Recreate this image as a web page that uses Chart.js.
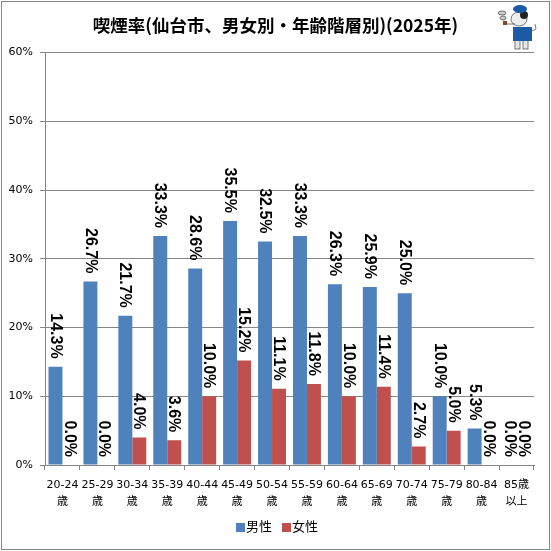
<!DOCTYPE html>
<html>
<head>
<meta charset="utf-8">
<script src="https://cdn.jsdelivr.net/npm/chart.js@4"></script>
<style>
  html, body { margin: 0; padding: 0; background: #fff; }
  canvas { display: block; }
</style>
</head>
<body>
<canvas id="myChart" width="551" height="551"></canvas>
<script>
const categories = [
  ["20-24", "歳"], ["25-29", "歳"], ["30-34", "歳"], ["35-39", "歳"], ["40-44", "歳"],
  ["45-49", "歳"], ["50-54", "歳"], ["55-59", "歳"], ["60-64", "歳"], ["65-69", "歳"],
  ["70-74", "歳"], ["75-79", "歳"], ["80-84", "歳"], ["85歳", "以上"],
];
const male = [14.3, 26.7, 21.7, 33.3, 28.6, 35.5, 32.5, 33.3, 26.3, 25.9, 25.0, 10.0, 5.3, 0.0];
const female = [0.0, 0.0, 4.0, 3.6, 10.0, 15.2, 11.1, 11.8, 10.0, 11.4, 2.7, 5.0, 0.0, 0.0];
const titleText = "喫煙率(仙台市、男女別・年齢階層別)(2025年)";

const tickFont = '"DejaVu Sans", "Noto Sans CJK JP", sans-serif';
const cjkFont = '"Noto Sans CJK JP", sans-serif';
const gray = "#868686";

// rotated value labels above each bar
const barLabels = {
  id: "barLabels",
  afterDatasetsDraw(chart) {
    const ctx = chart.ctx;
    chart.data.datasets.forEach((ds, i) => {
      chart.getDatasetMeta(i).data.forEach((bar, j) => {
        ctx.save();
        ctx.translate(bar.x - 0.5, bar.y - 8);
        ctx.rotate(Math.PI / 2);
        ctx.font = 'bold 16px "Liberation Sans", sans-serif';
        ctx.fillStyle = "#000";
        ctx.textAlign = "right";
        ctx.textBaseline = "middle";
        ctx.fillText(ds.data[j].toFixed(1) + "%", 0, 0);
        ctx.restore();
      });
    });
  },
};

// legend with the swatch tight against the text, as in the picture
const tightLegend = {
  id: "tightLegend",
  afterDraw(chart) {
    const ctx = chart.ctx;
    const startX = [236, 282];
    ctx.save();
    ctx.font = "13px " + cjkFont;
    ctx.textBaseline = "middle";
    chart.data.datasets.forEach((ds, i) => {
      ctx.fillStyle = ds.backgroundColor;
      ctx.fillRect(startX[i], 523, 9, 9);
      ctx.fillStyle = "#000";
      ctx.fillText(ds.label, startX[i] + 10, 526);
    });
    ctx.restore();
  },
};

// outer frame + the little mascot in the corner
const frame = {
  id: "frame",
  afterDraw(chart) {
    const ctx = chart.ctx;
    ctx.save();
    ctx.strokeStyle = gray;
    ctx.lineWidth = 1;
    ctx.strokeRect(1.5, 1.5, 548, 548);

    ctx.strokeStyle = "#444";
    ctx.lineWidth = 0.7;
    // smoke
    ctx.fillStyle = "#ccc";
    ctx.beginPath(); ctx.ellipse(502, 13, 4, 2, 0, 0, 7); ctx.fill(); ctx.stroke();
    ctx.beginPath(); ctx.ellipse(503, 18, 3, 2, 0, 0, 7); ctx.fill(); ctx.stroke();
    // tail and legs
    ctx.fillStyle = "#e6e6e6";
    ctx.beginPath(); ctx.moveTo(530, 32); ctx.lineTo(536, 29); ctx.lineTo(535, 24); ctx.stroke();
    ctx.fillRect(515, 40, 5, 9); ctx.strokeRect(515, 40, 5, 9);
    ctx.fillRect(523, 40, 5, 9); ctx.strokeRect(523, 40, 5, 9);
    // vest
    ctx.fillStyle = "#1c5aa6";
    ctx.fillRect(513, 27, 19, 14);
    // head
    ctx.fillStyle = "#eee";
    ctx.beginPath(); ctx.ellipse(519, 19, 8, 7, 0, 0, 7); ctx.fill(); ctx.stroke();
    ctx.fillStyle = "#222";
    ctx.beginPath(); ctx.ellipse(524, 15, 4, 4, 0, 0, 7); ctx.fill();
    // hat
    ctx.fillStyle = "#1c5aa6";
    ctx.beginPath(); ctx.ellipse(520, 9, 7, 4, 0, 0, 7); ctx.fill();
    // pipe
    ctx.fillStyle = "#8a4a20";
    ctx.fillRect(503, 21, 4, 4);
    ctx.beginPath(); ctx.moveTo(505, 24); ctx.lineTo(515, 24); ctx.stroke();
    ctx.restore();
  },
};

new Chart(document.getElementById("myChart"), {
  type: "bar",
  data: {
    labels: categories,
    datasets: [
      { label: "男性", data: male, backgroundColor: "#4f81bd", categoryPercentage: 0.8, barPercentage: 1 },
      { label: "女性", data: female, backgroundColor: "#c0504d", categoryPercentage: 0.8, barPercentage: 1 },
    ],
  },
  options: {
    responsive: false,
    animation: false,
    devicePixelRatio: 1,
    layout: { padding: { top: 0, right: 0, bottom: 43, left: 0 } },
    plugins: {
      title: {
        display: true,
        text: titleText,
        color: "#000",
        font: { family: cjkFont, size: 17.5, weight: "bold" },
        padding: { top: 15, bottom: 16.5 },
      },
      legend: { display: false },
      tooltip: { enabled: false },
    },
    scales: {
      x: {
        afterFit: (scale) => { scale.height = 43; },
        grid: { drawOnChartArea: false, color: gray, tickLength: 5 },
        border: { color: gray },
        ticks: {
          color: "#000",
          maxRotation: 0,
          minRotation: 0,
          autoSkip: false,
          font: { family: tickFont, size: 11, lineHeight: 1.6 },
          padding: 6,
        },
      },
      y: {
        afterFit: (scale) => { scale.width = 45; },
        min: 0,
        max: 60,
        grid: { color: gray, tickLength: 5 },
        border: { color: gray },
        ticks: {
          stepSize: 10,
          color: "#000",
          font: { family: tickFont, size: 11 },
          padding: 7,
          callback: (v) => v + "%",
        },
      },
      // empty axis, only keeps the gap on the right while the title stays centred on the page
      rightGap: {
        position: "right",
        afterFit: (scale) => { scale.width = 17; },
        grid: { display: false },
        border: { display: false },
        ticks: { display: false },
      },
    },
  },
  plugins: [barLabels, tightLegend, frame],
});
</script>
</body>
</html>
